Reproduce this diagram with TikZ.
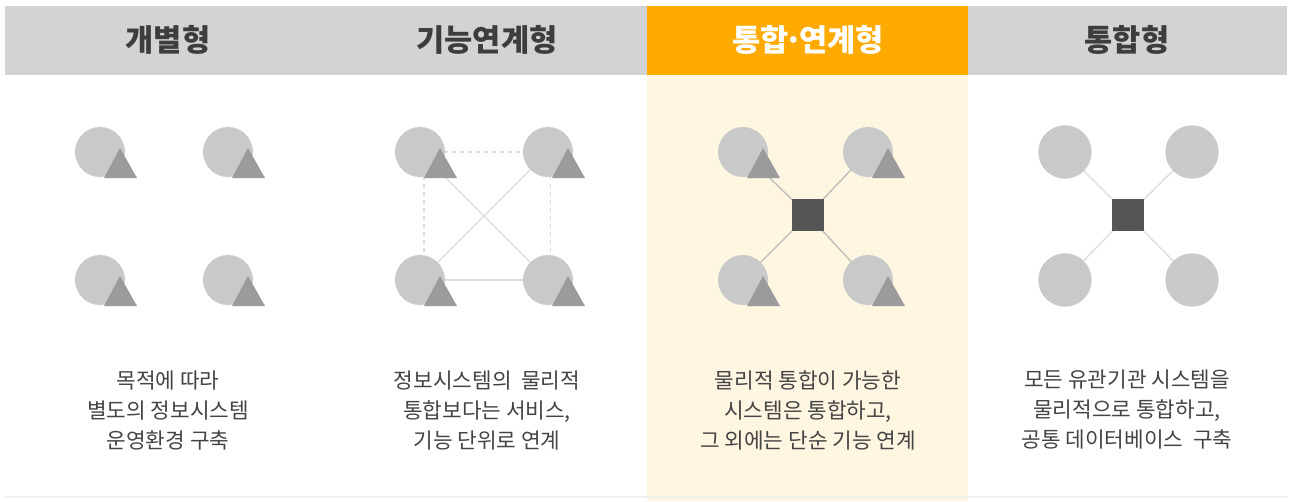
\documentclass[tikz,border=0pt]{standalone}
\usepackage{fontspec}
\setmainfont{Noto Sans CJK KR}
\usepackage{tikz}
\usetikzlibrary{calc, positioning, backgrounds}
\definecolor{hdrGray}{RGB}{211,211,211}
\definecolor{hdrOrange}{RGB}{255,170,0}
\definecolor{cream}{RGB}{255,246,226}
\definecolor{circC}{RGB}{201,201,201}
\definecolor{triC}{RGB}{155,155,155}
\definecolor{hubC}{RGB}{85,85,85}
\definecolor{linkC}{RGB}{221,221,221}
\definecolor{txtC}{RGB}{68,68,68}

\begin{document}
\begin{tikzpicture}[x=0.75pt, y=-0.75pt,
    hdr/.style={font=\fontsize{23}{26}\selectfont\bfseries, text=txtC!90!black},
    hdrsel/.style={hdr, text=white},
    sys/.style={circle, fill=circC, minimum size=37.5pt, inner sep=0pt},
    hub/.style={rectangle, fill=hubC, minimum size=24pt, inner sep=0pt},
    tri/.style={fill=triC},
    link/.style={draw=linkC, line width=1pt},
    dlink/.style={link, dashed},
    desc/.style={font=\fontsize{16}{22.5}\selectfont, text=txtC, align=center}]
  \useasboundingbox (0,0) rectangle (1291,501);
  % Fondos
  \begin{pgfonlayer}{background}
    \fill[white] (0,0) rectangle (1291,501);
    \fill[cream] (647,75) rectangle (968,501);
    \fill[hdrGray] (5,6) rectangle (1287,75);
    \fill[hdrOrange] (647,6) rectangle (968,75);
    \draw[black!6, line width=1pt] (5,497) -- (1287,497);
  \end{pgfonlayer}
  % Encabezados
  \node[hdr]    (h1) at (168,40)  {개별형};
  \node[hdr]    (h2) at (487,40)  {기능연계형};
  \node[hdrsel] (h3) at (808,40)  {통합\kern-3pt·\kern-3pt연계형};
  \node[hdr]    (h4) at (1127,40) {통합형};
  % Columna 1: 개별형
  \node[sys] (a1) at (100,152) {};
  \node[sys] (a2) at (228,152) {};
  \node[sys] (a3) at (100,280) {};
  \node[sys] (a4) at (228,280) {};
  % Columna 2: 기능연계형
  \node[sys] (b1) at (420,152) {};
  \node[sys] (b2) at (548,152) {};
  \node[sys] (b3) at (420,280) {};
  \node[sys] (b4) at (548,280) {};
  \begin{pgfonlayer}{background}
    \draw[dlink] (b1.center) -- (b2.center);
    \draw[dlink] ([xshift=3pt]b1.center) -- ([xshift=3pt]b3.center);
    \draw[dlink] ([xshift=2pt]b2.center) -- ([xshift=2pt]b4.center);
    \draw[link]  (b3.center) -- (b4.center);
    \draw[link]  (b1.center) -- (b4.center);
    \draw[link]  (b2.center) -- (b3.center);
  \end{pgfonlayer}
  % Columna 3: 통합·연계형
  \node[sys] (c1) at (743,152) {};
  \node[sys] (c2) at (868,152) {};
  \node[sys] (c3) at (743,280) {};
  \node[sys] (c4) at (868,280) {};
  \node[hub] (ch) at (808,215) {};
  \begin{pgfonlayer}{background}
    \draw[link, draw=linkC!85!black] (c1.center) -- (ch.center) -- (c4.center);
    \draw[link, draw=linkC!85!black] (c2.center) -- (ch.center) -- (c3.center);
  \end{pgfonlayer}
  % Columna 4: 통합형
  \node[sys, minimum size=40pt] (d1) at (1065,152) {};
  \node[sys, minimum size=40pt] (d2) at (1192,152) {};
  \node[sys, minimum size=40pt] (d3) at (1065,280) {};
  \node[sys, minimum size=40pt] (d4) at (1192,280) {};
  \node[hub] (dh) at (1128,215) {};
  \begin{pgfonlayer}{background}
    \draw[link] (d1.center) -- (dh.center) -- (d4.center);
    \draw[link] (d2.center) -- (dh.center) -- (d3.center);
  \end{pgfonlayer}
  % Triangulos
  \foreach \n in {a1,a2,a3,a4,b1,b2,b3,b4,c1,c2,c3,c4}
    \fill[tri] ($(\n)+(20,-4)$) -- ($(\n)+(4,26)$) -- ($(\n)+(37,26)$) -- cycle;
  % Descripciones
  \node[desc] (t1) at (168,410)  {목적에 따라\\별도의 정보시스템\\운영환경 구축};
  \node[desc] (t2) at (487,410)  {정보시스템의 \ 물리적\\통합보다는 서비스,\\기능 단위로 연계};
  \node[desc] (t3) at (808,410)  {물리적 통합이 가능한\\시스템은 통합하고,\\그 외에는 단순 기능 연계};
  \node[desc] (t4) at (1127,410) {모든 유관기관 시스템을\\물리적으로 통합하고,\\공통 데이터베이스 \ 구축};
\end{tikzpicture}
\end{document}
